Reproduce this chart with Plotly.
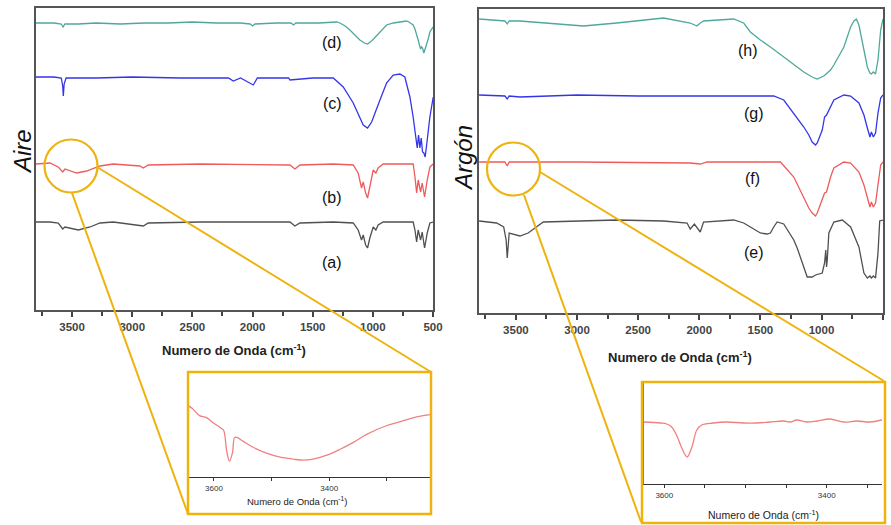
import plotly.graph_objects as go

W, H = 891, 525

# ---------------- data ----------------
# Left panel: "Aire" (a)-(d); values are arbitrary offset transmittance units
d_wn = [3800, 3650, 3590, 3575, 3560, 3450, 3300, 3100, 2900, 2700, 2500, 2300, 2100, 2020, 2000, 1980, 1800, 1680, 1660, 1640, 1450, 1300, 1274, 1230, 1191, 1150, 1108, 1070, 1044, 1010, 969, 940, 914, 886, 830, 775, 740, 720, 700, 680, 665, 650, 636, 623, 615, 603, 595, 587, 576, 567, 553, 540, 526, 510, 500]
d_val = [287, 287, 286, 283, 286, 286, 287, 286, 287, 287, 288, 287, 287, 286, 284, 286, 287, 287, 285, 287, 287, 288, 287, 284, 280, 275, 270, 267, 266, 269, 274, 278, 281, 285, 287, 288, 289, 289, 288, 286, 285, 281, 276, 270, 266, 261, 263, 262, 257, 260, 265, 271, 278, 281, 283]

c_wn = [3800, 3650, 3590, 3578, 3573, 3566, 3550, 3300, 3000, 2600, 2200, 2160, 2100, 2040, 1994, 1960, 1700, 1689, 1500, 1329, 1246, 1163, 1108, 1080, 1044, 1010, 941, 886, 831, 775, 734, 692, 665, 642, 631, 620, 609, 598, 587, 576, 565, 548, 526, 498]
c_val = [233, 233, 232, 224, 214, 226, 232, 232, 233, 232, 232, 229, 232, 228, 225, 232, 232, 230, 232, 232, 223, 207, 193, 185, 182, 188, 210, 227, 235, 236, 233, 213, 193, 173, 162, 175, 162, 172, 158, 157, 153, 170, 193, 213]

b_wn = [3800, 3684, 3615, 3578, 3559, 3462, 3379, 3268, 3158, 2936, 2908, 2867, 2437, 1883, 1689, 1648, 1606, 1329, 1163, 1122, 1094, 1080, 1060, 1044, 1025, 997, 975, 956, 914, 665, 650, 636, 623, 603, 590, 570, 548, 526, 500]
b_val = [146, 147, 143, 138, 141, 137, 139, 144, 146, 144, 142, 145, 146, 145, 145, 141, 145, 146, 145, 137, 122, 128, 117, 112, 123, 140, 137, 142, 146, 146, 133, 117, 130, 118, 127, 113, 130, 143, 146]

a_wn = [3800, 3684, 3615, 3578, 3559, 3448, 3351, 3268, 3158, 2908, 2867, 2437, 1689, 1648, 1606, 1329, 1163, 1122, 1094, 1080, 1060, 1044, 1025, 997, 975, 956, 914, 665, 650, 636, 623, 603, 590, 570, 548, 526, 500]
a_val = [88, 88, 87, 81, 83, 80, 83, 87, 88, 84, 87, 88, 88, 84, 87, 88, 87, 80, 70, 75, 65, 62, 72, 83, 80, 85, 88, 88, 80, 68, 80, 70, 78, 62, 77, 87, 88]

# Right panel: "Argón" (e)-(h)
h_wn = [3801, 3658, 3590, 3571, 3555, 3467, 3276, 2948, 2675, 2292, 2074, 2019, 1992, 1965, 1719, 1637, 1582, 1500, 1418, 1309, 1199, 1145, 1076, 1035, 981, 926, 899, 830, 817, 762, 735, 715, 694, 666, 625, 604, 592, 576, 558, 538, 516, 497]
h_val = [294, 293, 292, 289, 292, 292, 290, 287, 290, 295, 290, 287, 290, 292, 294, 290, 281, 273, 266, 256, 246, 241, 236, 234, 237, 243, 248, 263, 266, 286, 292, 294, 288, 271, 246, 240, 239, 241, 239, 253, 283, 294]

g_wn = [3801, 3590, 3571, 3555, 3467, 3000, 2500, 2000, 1500, 1391, 1309, 1227, 1145, 1104, 1076, 1049, 1035, 994, 975, 959, 926, 899, 817, 762, 694, 653, 625, 604, 592, 576, 558, 538, 516, 497]
g_val = [218, 217, 214, 217, 216, 218, 217, 217, 217, 217, 213, 200, 186, 178, 171, 168, 170, 183, 196, 198, 206, 213, 218, 217, 210, 198, 185, 176, 181, 176, 180, 200, 215, 218]

f_wn = [3801, 3590, 3571, 3555, 3000, 2074, 1992, 1937, 1500, 1336, 1227, 1145, 1104, 1076, 1049, 1035, 994, 975, 959, 926, 899, 817, 762, 694, 653, 625, 604, 592, 576, 558, 538, 516, 497]
f_val = [151, 151, 147, 151, 151, 150, 149, 151, 151, 151, 136, 115, 105, 100, 97, 100, 113, 120, 121, 136, 145, 151, 150, 141, 128, 115, 106, 111, 106, 110, 130, 148, 151]

e_wn = [3801, 3658, 3600, 3580, 3571, 3562, 3555, 3467, 3400, 3276, 3000, 2675, 2292, 2100, 2074, 2040, 1992, 1965, 1719, 1637, 1582, 1500, 1445, 1418, 1391, 1363, 1309, 1227, 1199, 1145, 1117, 1076, 1049, 994, 975, 965, 959, 953, 940, 899, 830, 762, 694, 653, 625, 604, 592, 576, 558, 538, 530, 524, 497]
e_val = [92, 90, 86, 73, 55, 73, 80, 77, 80, 91, 92, 93, 92, 90, 84, 89, 81, 91, 93, 90, 86, 80, 79, 80, 86, 91, 89, 73, 65, 45, 36, 36, 38, 40, 50, 63, 46, 53, 80, 91, 93, 86, 66, 40, 35, 37, 35, 37, 35, 60, 80, 92, 93]

# Insets (zoom of the 3650-3200 region, red spectra)
ia_wn = [3645, 3637, 3625, 3613, 3602, 3587, 3583, 3578, 3573, 3568, 3564, 3560, 3549, 3532, 3509, 3485, 3462, 3445, 3428, 3404, 3381, 3358, 3335, 3300, 3276, 3253, 3225]
ia_val = [72, 69, 62, 60, 55, 49, 47, 27, 16, 24, 40, 40, 36, 30, 24, 20, 18, 17, 18, 22, 28, 35, 43, 52, 56, 60, 63]

ib_wn = [3625, 3605, 3597, 3591, 3585, 3579, 3572, 3566, 3560, 3554, 3540, 3523, 3503, 3486, 3470, 3453, 3445, 3437, 3425, 3412, 3396, 3379, 3363, 3347, 3332]
ib_val = [62, 61, 60, 57, 49, 37, 27, 37, 54, 59, 61, 62, 61, 61, 62, 63, 62, 64, 62, 63, 65, 62, 63, 62, 64]

inset_ticks = [3600, 3400]
left_labels = ["(a)", "(b)", "(c)", "(d)"]
left_label_y = [48, 113, 207, 268]
right_labels = ["(e)", "(f)", "(g)", "(h)"]
right_label_y = [61, 135, 199, 262]
right_label_x = [1549, 1568, 1549, 1598]

TEAL = "#4FA89B"
BLUE = "#3535E8"
RED = "#EF5B5B"
GRAY = "#505050"
PINK = "#F08080"
YEL = "#EEB30E"

fig = go.Figure()

def px_x(px):
    return px / W

def px_y(py):
    return 1 - py / H

# left panel
for wn, val, col in [(a_wn, a_val, GRAY), (b_wn, b_val, RED), (c_wn, c_val, BLUE), (d_wn, d_val, TEAL)]:
    fig.add_trace(go.Scatter(x=wn, y=val, mode="lines", line=dict(color=col, width=1.3),
                             xaxis="x", yaxis="y", showlegend=False, hoverinfo="skip"))
# right panel
for wn, val, col in [(e_wn, e_val, GRAY), (f_wn, f_val, RED), (g_wn, g_val, BLUE), (h_wn, h_val, TEAL)]:
    fig.add_trace(go.Scatter(x=wn, y=val, mode="lines", line=dict(color=col, width=1.3),
                             xaxis="x2", yaxis="y2", showlegend=False, hoverinfo="skip"))
# insets
fig.add_trace(go.Scatter(x=ia_wn, y=ia_val, mode="lines", line=dict(color=PINK, width=1.3, shape="spline"),
                         xaxis="x3", yaxis="y3", showlegend=False, hoverinfo="skip"))
fig.add_trace(go.Scatter(x=ib_wn, y=ib_val, mode="lines", line=dict(color=PINK, width=1.3, shape="spline"),
                         xaxis="x4", yaxis="y4", showlegend=False, hoverinfo="skip"))

tickfont = dict(family="Liberation Sans, Arial", size=11.5, color="#444", weight="bold")
main_x = dict(tickmode="linear", tick0=0, dtick=500, ticks="outside", ticklen=5,
              tickwidth=1.5, tickcolor="#444", showline=True, mirror=True, linecolor="#555", linewidth=1.5,
              showgrid=False, zeroline=False, tickfont=tickfont, automargin=False,
              minor=dict(dtick=250, tick0=0, ticks="outside", ticklen=4, tickcolor="#444", tickwidth=1.5, showgrid=False))
main_y = dict(showline=True, mirror=True, linecolor="#555", linewidth=1.5, showticklabels=False,
              ticks="", showgrid=False, zeroline=False, automargin=False)
inset_font = dict(family="Liberation Sans, Arial", size=8, color="#333")

fig.update_layout(
    width=W, height=H, margin=dict(l=0, r=0, t=0, b=0, autoexpand=False),
    paper_bgcolor="white", plot_bgcolor="white",
    xaxis=dict(domain=[px_x(36), px_x(433)], anchor="y", range=[3800, 500], **main_x),
    yaxis=dict(domain=[px_y(310), px_y(8)], anchor="x", range=[0, 302], **main_y),
    xaxis2=dict(domain=[px_x(479), px_x(883)], anchor="y2", range=[3802, 497], **main_x),
    yaxis2=dict(domain=[px_y(313), px_y(9)], anchor="x2", range=[0, 304], **main_y),
    xaxis3=dict(domain=[px_x(188), px_x(430)], anchor="y3", range=[3645, 3225], tickvals=inset_ticks,
                ticks="outside", ticklen=3, tickcolor="#333", showline=True, linecolor="#333", linewidth=1.2,
                showgrid=False, zeroline=False, tickfont=inset_font, automargin=False,
                minor=dict(tickvals=[3500, 3300], ticks="outside", ticklen=3, tickcolor="#333", showgrid=False)),
    yaxis3=dict(domain=[px_y(477), px_y(374)], anchor="x3", range=[0, 104], showticklabels=False, ticks="",
                showline=True, linecolor="#777", linewidth=1, showgrid=False, zeroline=False, automargin=False),
    xaxis4=dict(domain=[px_x(644), px_x(882)], anchor="y4", range=[3625, 3332], tickvals=inset_ticks,
                ticks="outside", ticklen=3, tickcolor="#333", showline=True, linecolor="#333", linewidth=1.2,
                showgrid=False, zeroline=False, tickfont=inset_font, automargin=False,
                minor=dict(tickvals=[3550, 3500, 3450, 3350], ticks="outside", ticklen=3, tickcolor="#333", showgrid=False)),
    yaxis4=dict(domain=[px_y(484), px_y(383)], anchor="x4", range=[0, 101], showticklabels=False, ticks="",
                showline=True, linecolor="#777", linewidth=1, showgrid=False, zeroline=False, automargin=False),
)

annots = []
lab_font = dict(family="Liberation Sans, Arial", size=16, color="#111")
for t, yv in zip(left_labels, left_label_y):
    annots.append(dict(x=1338, y=yv, xref="x", yref="y", text=t, showarrow=False, font=lab_font,
                       xanchor="center", yanchor="middle"))
for t, yv, xv in zip(right_labels, right_label_y, right_label_x):
    annots.append(dict(x=xv, y=yv, xref="x2", yref="y2", text=t, showarrow=False, font=lab_font,
                       xanchor="center", yanchor="middle"))

def pannot(px, py, text, font, angle=0):
    annots.append(dict(x=px_x(px), y=px_y(py), xref="paper", yref="paper", text=text, showarrow=False,
                       font=font, textangle=angle, xanchor="center", yanchor="middle"))

title_font = dict(family="Liberation Sans, Arial", size=13, color="#222", weight="bold")
xt = "Numero de Onda (cm<sup>-1</sup>)"
pannot(234, 350, xt, title_font)
pannot(680, 357, xt, title_font)
pannot(297, 501, xt, dict(family="Liberation Sans, Arial", size=9.5, color="#222"))
pannot(763, 514, xt, dict(family="Liberation Sans, Arial", size=10.5, color="#222"))
ytf = dict(family="Liberation Sans, Arial", size=24, color="#111")
pannot(22, 152, "<i>Aire</i>", ytf, -90)
pannot(463, 158, "<i>Argón</i>", ytf, -90)
fig.update_layout(annotations=annots)

shapes = []
def line(x0, y0, x1, y1):
    shapes.append(dict(type="line", xref="paper", yref="paper", x0=px_x(x0), y0=px_y(y0), x1=px_x(x1), y1=px_y(y1),
                       line=dict(color=YEL, width=2)))

def circle(cx, cy, r):
    shapes.append(dict(type="circle", xref="paper", yref="paper", x0=px_x(cx - r), x1=px_x(cx + r),
                       y0=px_y(cy + r), y1=px_y(cy - r), line=dict(color=YEL, width=2.2)))

def rect(x0, y0, x1, y1):
    shapes.append(dict(type="rect", xref="paper", yref="paper", x0=px_x(x0), x1=px_x(x1),
                       y0=px_y(y1), y1=px_y(y0), line=dict(color=YEL, width=2.5)))

circle(71, 166, 26.5)
circle(513.5, 169, 26.5)
line(72, 193, 188, 514)
line(97, 167, 431, 372)
line(524, 195, 641, 522)
line(540, 172, 884, 381)
rect(188, 372, 431, 514)
rect(642, 382, 885, 523)
fig.update_layout(shapes=shapes)

fig.write_html("out.html")
